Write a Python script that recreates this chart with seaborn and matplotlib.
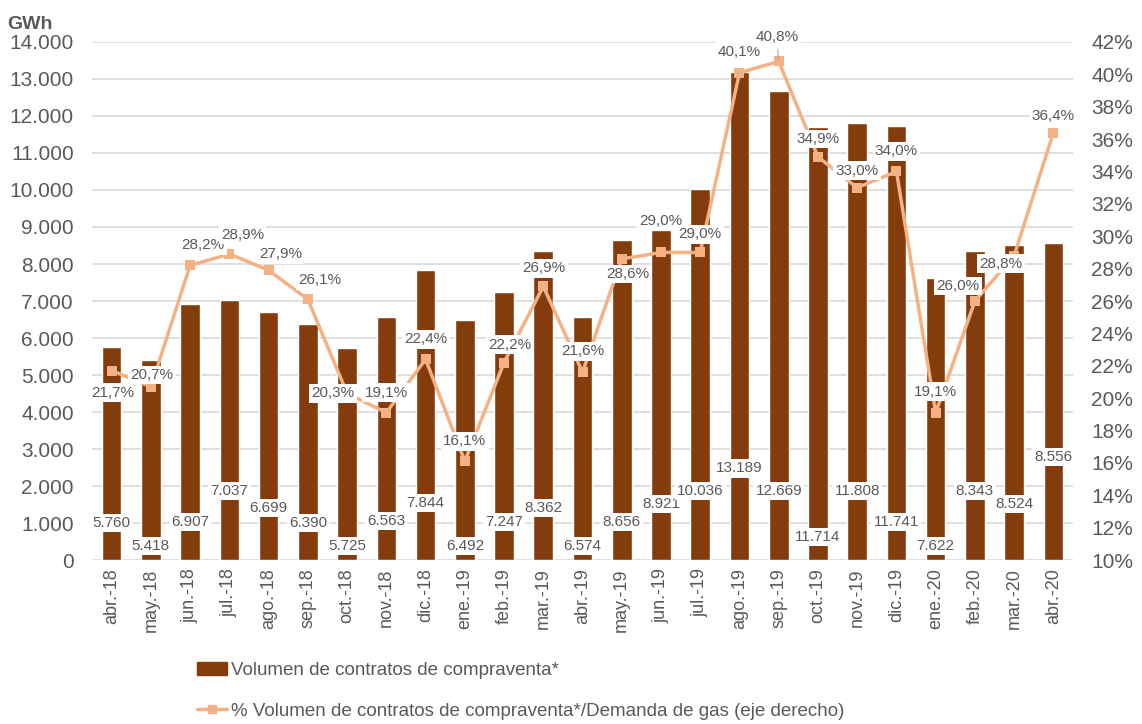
import numpy as np
import pandas as pd
import seaborn as sns
import matplotlib.pyplot as plt

months = ["abr.-18", "may.-18", "jun.-18", "jul.-18", "ago.-18", "sep.-18", "oct.-18",
          "nov.-18", "dic.-18", "ene.-19", "feb.-19", "mar.-19", "abr.-19", "may.-19",
          "jun.-19", "jul.-19", "ago.-19", "sep.-19", "oct.-19", "nov.-19", "dic.-19",
          "ene.-20", "feb.-20", "mar.-20", "abr.-20"]
volumen = [5760, 5418, 6907, 7037, 6699, 6390, 5725, 6563, 7844, 6492, 7247, 8362, 6574,
           8656, 8921, 10036, 13189, 12669, 11714, 11808, 11741, 7622, 8343, 8524, 8556]
pct_demanda = [21.7, 20.7, 28.2, 28.9, 27.9, 26.1, 20.3, 19.1, 22.4, 16.1, 22.2, 26.9, 21.6,
               28.6, 29.0, 29.0, 40.1, 40.8, 34.9, 33.0, 34.0, 19.1, 26.0, 28.8, 36.4]

# where the value labels sit (GWh for bars, pixel offset from the point for the % labels)
bar_label_y = [1000, 380, 1030, 1860, 1410, 1000, 380, 1060, 1540, 380, 1030, 1410, 380,
               1030, 1510, 1860, 2480, 1860, 620, 1860, 1030, 380, 1860, 1510, 2780]
pct_label_off = [(1, -22), (1, 12), (13, 20), (13, 19), (12, 16), (12, 19), (-14, 0), (0, 20),
                 (0, 20), (0, 20), (6, 18), (1, 18), (0, 21), (6, -15), (0, 31), (0, 18),
                 (0, 21), (-2, 24), (0, 18), (0, 17), (0, 20), (0, 21), (-17, 15), (-13, -8),
                 (0, 17)]

brown = "#843C0C"
orange = "#F4B183"
grey_txt = "#595959"

sns.set_theme(style="white")
plt.rcParams['font.family'] = ['Liberation Sans', 'DejaVu Sans']

df = pd.DataFrame({"mes": months, "volumen": volumen, "pct": pct_demanda})
x = np.arange(len(months))

fig = plt.figure(figsize=(11.42, 7.24), dpi=100)
ax = fig.add_axes([0.0806, 0.2265, 0.859, 0.7155])
sns.barplot(data=df, x="mes", y="volumen", color=brown, saturation=1, width=0.5, ax=ax, zorder=2)
ax.set_ylim(0, 14000)
ax.set_xlim(-0.5, len(months) - 0.5)
ax.set_yticks(np.arange(0, 14001, 1000))
ax.set_yticklabels([f"{v:,}".replace(",", ".") for v in range(0, 14001, 1000)])
ax.yaxis.grid(True, color="#D9D9D9", linewidth=1.2, zorder=0)
ax.set_axisbelow(True)
ax.tick_params(axis="y", labelsize=15, colors=grey_txt, length=0, pad=13)
ax.tick_params(axis="x", labelsize=13, colors=grey_txt, length=0, rotation=90, pad=6)
ax.set_xlabel("")
ax.set_ylabel("")
for s in ax.spines.values():
    s.set_visible(False)
ax.text(-0.086, 1.033, "GWh", transform=ax.transAxes, fontsize=14, fontweight="bold",
        color=grey_txt, ha="left", va="center")

ax2 = ax.twinx()
sns.lineplot(x=x, y=df["pct"], color=orange, linewidth=2.5, marker="s", markersize=7,
             markeredgewidth=0, ax=ax2)
ax2.set_ylim(10, 42)
ax2.set_yticks(np.arange(10, 43, 2))
ax2.set_yticklabels([f"{v}%" for v in range(10, 43, 2)])
ax2.tick_params(axis="y", labelsize=15, colors=grey_txt, length=0, pad=13)
ax2.set_ylabel("")
for s in ax2.spines.values():
    s.set_visible(False)

box = dict(boxstyle="square,pad=0.15", fc="white", ec="none")
for i, (v, ly) in enumerate(zip(volumen, bar_label_y)):
    ax2.text(i, ly, f"{v:,}".replace(",", "."), transform=ax.transData, ha="center",
             va="center", fontsize=11, color=grey_txt, bbox=box, zorder=5)

for i, (p, off) in enumerate(zip(pct_demanda, pct_label_off)):
    arrow = dict(arrowstyle="-", color="#A6A6A6", lw=0.8) if months[i] == "sep.-19" else None
    ax2.annotate(f"{p:.1f}%".replace(".", ","), (i, p), xytext=off, textcoords="offset pixels",
                 ha="center", va="center", fontsize=11, color=grey_txt, bbox=box,
                 arrowprops=arrow, zorder=6)

bar_h = plt.Rectangle((0, 0), 1, 1, color=brown)
line_h = plt.Line2D([], [], color=orange, linewidth=2.5, marker="s", markersize=6)
fig.legend([bar_h, line_h],
           ["Volumen de contratos de compraventa*",
            "% Volumen de contratos de compraventa*/Demanda de gas (eje derecho)"],
           loc="upper left", bbox_to_anchor=(0.166, 0.096), frameon=False, fontsize=13.5,
           labelcolor=grey_txt, handlelength=1.6, handletextpad=0.2, labelspacing=1.25,
           borderaxespad=0)

fig.savefig("out.png", dpi=100)
